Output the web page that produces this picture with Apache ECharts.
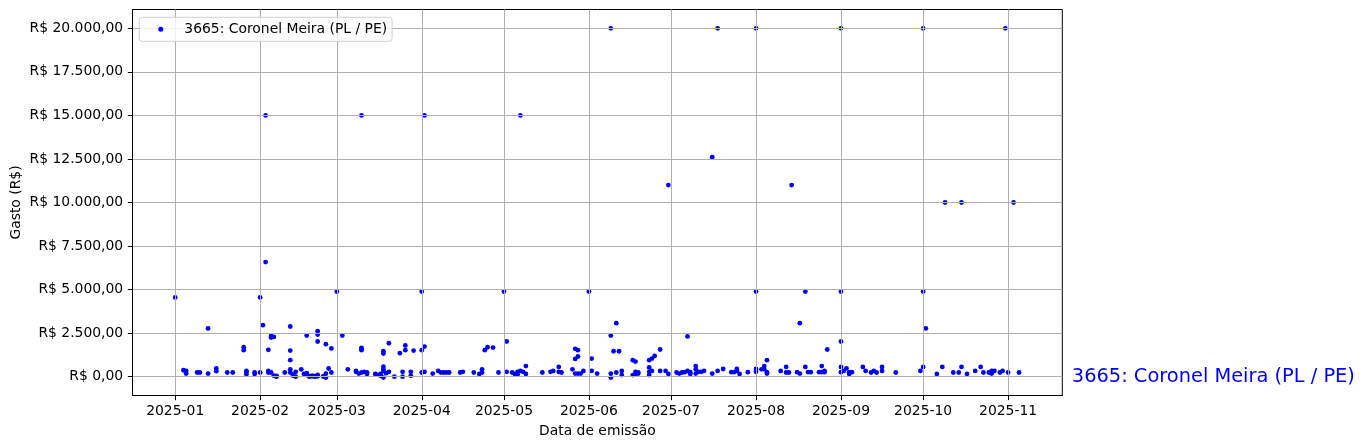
<!DOCTYPE html>
<html><head><meta charset="utf-8">
<script src="https://cdn.jsdelivr.net/npm/echarts@6/dist/echarts.min.js"></script>
<style>html,body{margin:0;padding:0;background:#fff}#c{width:1365px;height:448px}</style>
</head><body><div id="c"></div>
<script>
const seriesName = '3665: Coronel Meira (PL / PE)';
const xAxisTitle = 'Data de emissão';
const yAxisTitle = 'Gasto (R$)';
const dates = [
 '2025-01-01','2025-01-04','2025-01-05','2025-01-05','2025-01-09','2025-01-10','2025-01-13','2025-01-13','2025-01-16','2025-01-16',
 '2025-01-20','2025-01-22','2025-01-26','2025-01-26','2025-01-27','2025-01-27','2025-01-27','2025-01-30','2025-01-30',
 '2025-02-01','2025-02-01','2025-02-02','2025-02-03','2025-02-03','2025-02-04','2025-02-04','2025-02-04','2025-02-05','2025-02-05','2025-02-05',
 '2025-02-06','2025-02-06','2025-02-07','2025-02-07','2025-02-10','2025-02-12','2025-02-12','2025-02-12','2025-02-12','2025-02-12',
 '2025-02-13','2025-02-13','2025-02-14','2025-02-14','2025-02-16','2025-02-17','2025-02-18','2025-02-18','2025-02-18','2025-02-19','2025-02-19',
 '2025-02-20','2025-02-20','2025-02-21','2025-02-21','2025-02-22','2025-02-22','2025-02-22','2025-02-22','2025-02-22','2025-02-24',
 '2025-02-25','2025-02-25','2025-02-25','2025-02-26','2025-02-27','2025-02-27',
 '2025-03-01','2025-03-03','2025-03-05','2025-03-08','2025-03-08','2025-03-09','2025-03-10','2025-03-10','2025-03-10','2025-03-10','2025-03-10',
 '2025-03-11','2025-03-12','2025-03-12','2025-03-15','2025-03-16','2025-03-17','2025-03-17','2025-03-18','2025-03-18','2025-03-18','2025-03-18','2025-03-18','2025-03-18',
 '2025-03-19','2025-03-20','2025-03-20','2025-03-22','2025-03-24','2025-03-25','2025-03-25','2025-03-26','2025-03-26','2025-03-28','2025-03-28','2025-03-29',
 '2025-04-01','2025-04-01','2025-04-01','2025-04-02','2025-04-02','2025-04-02','2025-04-05','2025-04-07','2025-04-08','2025-04-09','2025-04-10','2025-04-11',
 '2025-04-15','2025-04-16','2025-04-20','2025-04-22','2025-04-23','2025-04-23','2025-04-24','2025-04-25','2025-04-27','2025-04-29',
 '2025-05-01','2025-05-02','2025-05-02','2025-05-04','2025-05-05','2025-05-06','2025-05-06','2025-05-07','2025-05-07','2025-05-08','2025-05-09','2025-05-09',
 '2025-05-15','2025-05-18','2025-05-19','2025-05-21','2025-05-21','2025-05-22','2025-05-26','2025-05-27','2025-05-27','2025-05-27','2025-05-28','2025-05-28','2025-05-28',
 '2025-05-29','2025-05-30',
 '2025-06-01','2025-06-02','2025-06-02','2025-06-04','2025-06-09','2025-06-09','2025-06-09','2025-06-09','2025-06-10','2025-06-11','2025-06-11','2025-06-12',
 '2025-06-13','2025-06-13','2025-06-17','2025-06-17','2025-06-18','2025-06-18','2025-06-18','2025-06-19','2025-06-19','2025-06-23','2025-06-23','2025-06-23','2025-06-23',
 '2025-06-24','2025-06-24','2025-06-25','2025-06-27','2025-06-27','2025-06-29','2025-06-30','2025-06-30',
 '2025-07-03','2025-07-04','2025-07-05','2025-07-06','2025-07-07','2025-07-07','2025-07-08','2025-07-08','2025-07-10','2025-07-10','2025-07-10','2025-07-11','2025-07-12',
 '2025-07-13','2025-07-16','2025-07-16','2025-07-18','2025-07-18','2025-07-20','2025-07-23','2025-07-24','2025-07-25','2025-07-25','2025-07-26','2025-07-29',
 '2025-08-01','2025-08-01','2025-08-01','2025-08-01','2025-08-03','2025-08-04','2025-08-04','2025-08-05','2025-08-05','2025-08-05','2025-08-10','2025-08-12','2025-08-12',
 '2025-08-13','2025-08-14','2025-08-16','2025-08-17','2025-08-17','2025-08-19','2025-08-19','2025-08-20','2025-08-21','2025-08-24','2025-08-25','2025-08-25',
 '2025-08-26','2025-08-26','2025-08-27',
 '2025-09-01','2025-09-01','2025-09-01','2025-09-01','2025-09-01','2025-09-02','2025-09-03','2025-09-04','2025-09-04','2025-09-05','2025-09-09','2025-09-10',
 '2025-09-12','2025-09-13','2025-09-14','2025-09-16','2025-09-16','2025-09-21','2025-09-30',
 '2025-10-01','2025-10-01','2025-10-01','2025-10-02','2025-10-06','2025-10-08','2025-10-09','2025-10-12','2025-10-14','2025-10-15','2025-10-15','2025-10-17',
 '2025-10-20','2025-10-22','2025-10-23','2025-10-25','2025-10-26','2025-10-26','2025-10-27','2025-10-29','2025-10-30','2025-10-31',
 '2025-11-01','2025-11-03','2025-11-05'
];
const values = [
 4550,370,330,180,240,240,2770,180,470,315,
 240,240,1690,1520,280,330,140,240,160,
 4550,240,2960,15000,6580,1540,240,330,2340,2250,240,
 60,2280,0,50,240,2880,1500,950,420,240,
 120,60,280,0,420,160,2365,200,100,30,0,
 60,20,30,0,2610,2420,2020,100,20,10,
 1865,180,-50,470,1620,240,
 4890,2365,420,330,280,180,15000,1650,1520,1600,240,
 280,240,160,160,100,50,160,1460,1330,330,420,570,-50,
 200,1920,280,0,1350,280,0,1520,1790,280,60,1500,
 4890,1520,240,15000,1730,280,180,330,240,240,240,240,
 240,280,240,160,420,240,1520,1690,1670,240,
 4890,2020,280,240,160,280,120,15000,330,280,610,160,
 240,280,330,560,280,240,420,1600,1020,180,1520,1160,180,
 180,330,
 4890,1040,330,180,20000,2365,180,-50,1460,3070,240,1460,
 90,330,950,90,870,280,160,240,180,950,530,90,280,
 1040,330,1190,1560,330,330,11000,160,
 240,180,240,260,2310,330,160,260,610,420,180,280,280,
 330,12600,180,20000,330,440,260,260,330,440,160,260,
 20000,4890,440,280,420,610,420,950,260,180,330,560,240,
 240,11000,260,3070,180,4890,560,260,260,260,260,610,
 330,260,1560,
 20000,4890,2020,260,560,330,480,260,160,260,560,330,
 240,330,240,560,330,240,330,
 20000,4890,560,2770,160,560,10000,240,240,10000,560,160,
 330,560,240,240,330,180,330,240,330,20000,
 240,10000,240
];
const xTickDates = ['2025-01-01','2025-02-01','2025-03-01','2025-04-01','2025-05-01','2025-06-01','2025-07-01','2025-08-01','2025-09-01','2025-10-01','2025-11-01'];
const yTickValues = [0,2500,5000,7500,10000,12500,15000,17500,20000];
const xRange = ['2024-12-16 10', '2025-11-20 19'];
const yRange = [-1080, 21080];

function ts(s) {
  const parts = s.split(' ');
  const [y, m, d] = parts[0].split('-').map(Number);
  const h = parts[1] ? Number(parts[1]) : 0;
  return Date.UTC(y, m - 1, d, h);
}
function brl(v) {
  const neg = v < 0;
  const fixed = Math.abs(v).toFixed(2);
  let [ip, dp] = fixed.split('.');
  ip = ip.replace(/\B(?=(\d{3})+(?!\d))/g, '.');
  return 'R$ ' + (neg ? '-' : '') + ip + ',' + dp;
}
function ym(v) {
  const d = new Date(v);
  const m = d.getUTCMonth() + 1;
  return d.getUTCFullYear() + '-' + (m < 10 ? '0' + m : m);
}

const FONT = 'DejaVu Sans';
const FS = 13.9;
const xTicks = xTickDates.map(ts);
const xMin = ts(xRange[0]), xMax = ts(xRange[1]);

const chart = echarts.init(document.getElementById('c'), null, {renderer: 'canvas'});
chart.setOption({
  animation: false,
  backgroundColor: '#ffffff',
  textStyle: {fontFamily: FONT},
  grid: {left: 132.5, top: 9.5, width: 929.8, height: 386, show: true, borderColor: '#000', borderWidth: 1, backgroundColor: 'transparent', containLabel: false, outerBoundsMode: 'none'},
  legend: {
    left: 139.3, top: 17.3, orient: 'horizontal',
    padding: [4, 5, 4, 19],
    itemHeight: 5,
    borderColor: '#d0d0d0', borderWidth: 1, borderRadius: 3,
    backgroundColor: 'rgba(255,255,255,0.8)',
    textStyle: {fontSize: FS, color: '#000', fontFamily: FONT, lineHeight: 16, padding: [0, 0, 0, 6]},
    data: [{name: seriesName, icon: 'circle'}]
  },
  xAxis: {
    type: 'value', min: xMin, max: xMax, z: 3, scale: true,
    axisLine: {show: true, onZero: false, lineStyle: {color: '#000', width: 1}},
    axisTick: {show: true, length: 4.67, lineStyle: {color: '#000', width: 1}, customValues: xTicks},
    axisLabel: {customValues: xTicks, formatter: ym, color: '#000', fontSize: FS, fontFamily: FONT, margin: 9.3, hideOverlap: false},
    splitLine: {show: true, lineStyle: {color: '#b0b0b0', width: 1}},
    name: xAxisTitle, nameLocation: 'middle', nameGap: 29, nameMoveOverlap: false,
    nameTextStyle: {fontSize: FS, color: '#000', fontFamily: FONT}
  },
  yAxis: {
    type: 'value', min: yRange[0], max: yRange[1], z: 3,
    axisLine: {show: true, onZero: false, lineStyle: {color: '#000', width: 1}},
    axisTick: {show: true, length: 4.67, lineStyle: {color: '#000', width: 1}, customValues: yTickValues},
    axisLabel: {customValues: yTickValues, formatter: brl, color: '#000', fontSize: FS, fontFamily: FONT, margin: 9.3},
    splitLine: {show: true, lineStyle: {color: '#b0b0b0', width: 1}},
    name: yAxisTitle, nameLocation: 'middle', nameGap: 109, nameMoveOverlap: false,
    nameTextStyle: {fontSize: FS, color: '#000', fontFamily: FONT}
  },
  series: [{
    type: 'scatter', name: seriesName, z: 2,
    symbol: 'circle', symbolSize: 4.8,
    itemStyle: {color: '#0000ff', opacity: 1},
    data: dates.map((d, i) => [ts(d), values[i]])
  }]
});
const p = chart.convertToPixel({xAxisIndex: 0, yAxisIndex: 0}, [xMax, 0]);
chart.setOption({
  graphic: [{
    type: 'text', x: p[0] + 9.5, y: p[1], z: 10,
    style: {text: seriesName, fill: '#0000ff', fontSize: 19.4, fontFamily: FONT, verticalAlign: 'middle', align: 'left'}
  }]
});
</script>
</body></html>
